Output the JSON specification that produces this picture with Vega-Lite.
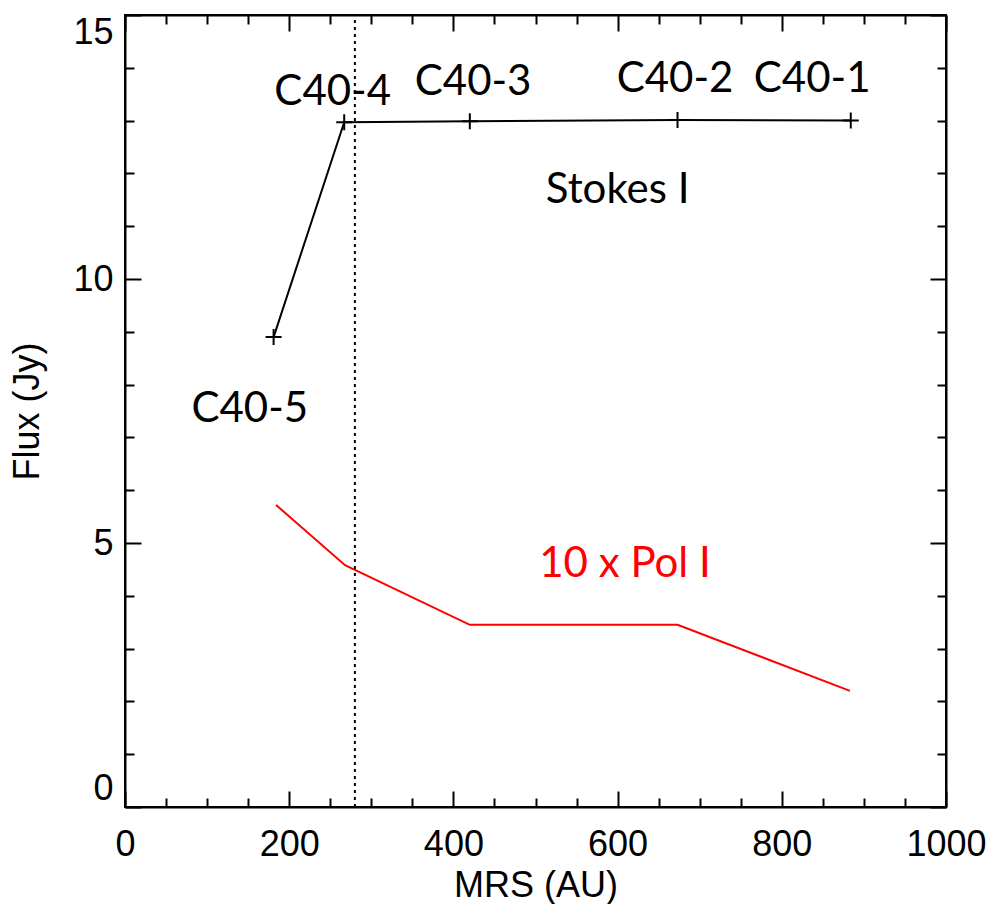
{
  "$schema": "https://vega.github.io/schema/vega-lite/v6.json",
  "autosize": {"type": "none"},
  "padding": {"left": 125, "top": 15, "right": 48, "bottom": 97},
  "width": 821,
  "height": 792,
  "background": "white",
  "config": {
    "view": {"stroke": "black", "strokeWidth": 2},
    "axis": {"domainColor": "black", "domainWidth": 2, "tickColor": "black", "tickWidth": 2, "grid": false, "labelFont": "Liberation Sans", "labelFontSize": 36, "labelColor": "black", "titleFont": "Liberation Sans", "titleFontSize": 36, "titleColor": "black", "titleFontWeight": "normal"}
  },
  "datasets": {
    "stokes": [
      {"mrs": 181, "flux": 8.9, "config": "C40-5"},
      {"mrs": 267, "flux": 12.97, "config": "C40-4"},
      {"mrs": 420, "flux": 12.99, "config": "C40-3"},
      {"mrs": 673, "flux": 13.01, "config": "C40-2"},
      {"mrs": 884, "flux": 13.0, "config": "C40-1"}
    ],
    "pol": [
      {"mrs": 184, "flux": 5.72},
      {"mrs": 268, "flux": 4.58},
      {"mrs": 420, "flux": 3.45},
      {"mrs": 673, "flux": 3.45},
      {"mrs": 883, "flux": 2.2}
    ],
    "labels": [
      {"mrs": 253, "flux": 13.3, "text": "C40-4", "color": "black"},
      {"mrs": 424, "flux": 13.48, "text": "C40-3", "color": "black"},
      {"mrs": 670, "flux": 13.54, "text": "C40-2", "color": "black"},
      {"mrs": 837, "flux": 13.54, "text": "C40-1", "color": "black"},
      {"mrs": 152, "flux": 7.29, "text": "C40-5", "color": "black"},
      {"mrs": 600, "flux": 11.44, "text": "Stokes I", "color": "black"},
      {"mrs": 609, "flux": 4.36, "text": "10 x Pol I", "color": "red"}
    ],
    "vline": [{"mrs": 280}]
  },
  "resolve": {"axis": {"x": "independent", "y": "independent"}},
  "layer": [
    {
      "data": {"name": "stokes"},
      "mark": {"type": "line", "color": "black", "strokeWidth": 2},
      "encoding": {
        "x": {"field": "mrs", "type": "quantitative", "scale": {"domain": [0, 1000], "nice": false, "zero": false},
          "axis": {"orient": "bottom", "title": "MRS (AU)", "format": "d", "values": [0, 200, 400, 600, 800, 1000], "tickSize": -16, "labelPadding": 36, "titlePadding": 6, "labelFlush": false}},
        "y": {"field": "flux", "type": "quantitative", "scale": {"domain": [0, 15], "nice": false, "zero": false},
          "axis": {"orient": "left", "title": "Flux (Jy)", "format": "d", "values": [0, 5, 10, 15], "tickSize": -16, "labelPadding": 28, "titlePadding": 26, "labelFlush": true}}
      }
    },
    {
      "data": {"name": "stokes"},
      "mark": {"type": "point", "shape": "M-1,0H1M0,-1V1", "size": 256, "color": "black", "strokeWidth": 2, "filled": false, "opacity": 1},
      "encoding": {
        "x": {"field": "mrs", "type": "quantitative",
          "axis": {"orient": "bottom", "title": null, "labels": false, "domain": false, "values": [50, 100, 150, 250, 300, 350, 450, 500, 550, 650, 700, 750, 850, 900, 950], "tickSize": -9}},
        "y": {"field": "flux", "type": "quantitative",
          "axis": {"orient": "left", "title": null, "labels": false, "domain": false, "values": [1, 2, 3, 4, 6, 7, 8, 9, 11, 12, 13, 14], "tickSize": -9}}
      }
    },
    {
      "data": {"name": "pol"},
      "mark": {"type": "line", "color": "red", "strokeWidth": 2},
      "encoding": {
        "x": {"field": "mrs", "type": "quantitative",
          "axis": {"orient": "top", "title": null, "labels": false, "values": [0, 200, 400, 600, 800, 1000], "tickSize": -16}},
        "y": {"field": "flux", "type": "quantitative",
          "axis": {"orient": "right", "title": null, "labels": false, "values": [0, 5, 10, 15], "tickSize": -16}}
      }
    },
    {
      "data": {"name": "vline"},
      "mark": {"type": "rule", "color": "black", "strokeWidth": 2, "strokeDash": [3, 4]},
      "encoding": {
        "x": {"field": "mrs", "type": "quantitative",
          "axis": {"orient": "top", "title": null, "labels": false, "domain": false, "values": [50, 100, 150, 250, 300, 350, 450, 500, 550, 650, 700, 750, 850, 900, 950], "tickSize": -9}},
        "y": {"datum": 0, "type": "quantitative",
          "axis": {"orient": "right", "title": null, "labels": false, "domain": false, "values": [1, 2, 3, 4, 6, 7, 8, 9, 11, 12, 13, 14], "tickSize": -9}},
        "y2": {"datum": 15}
      }
    },
    {
      "data": {"name": "labels"},
      "mark": {"type": "text", "font": "Lato", "fontSize": 42, "align": "center", "baseline": "alphabetic"},
      "encoding": {
        "x": {"field": "mrs", "type": "quantitative", "axis": null},
        "y": {"field": "flux", "type": "quantitative", "axis": null},
        "text": {"field": "text"},
        "color": {"field": "color", "type": "nominal", "scale": null}
      }
    }
  ]
}
